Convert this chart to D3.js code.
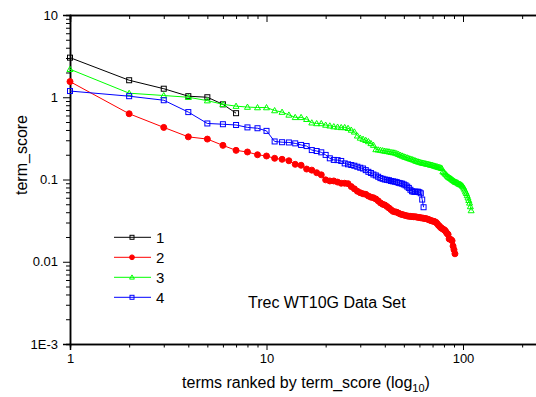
<!DOCTYPE html>
<html><head><meta charset="utf-8">
<script src="https://cdn.jsdelivr.net/npm/d3@7"></script>
<style>body{margin:0;background:#fff}svg{display:block;font-family:Arial,"Liberation Sans",sans-serif}</style>
</head><body><svg id="c" width="536" height="397"></svg>
<script>
// term_score for terms ranked 1..N (rank = index + 1)
const series1 = [3.03,1.61,1.27,1.03,1.0,0.82,0.64];
const series2 = [1.55,0.63,0.43,0.33,0.31,0.26,0.226,0.216,0.200,0.193,
0.181,0.176,0.169,0.153,0.149,0.134,0.130,0.121,0.114,0.099,
0.096,0.096,0.093,0.090,0.090,0.089,0.082,0.077,0.072,0.069,
0.067,0.066,0.063,0.061,0.060,0.058,0.055,0.052,0.050,0.049,
0.047,0.045,0.043,0.041,0.0405,0.040,0.039,0.038,0.0375,0.037,
0.0365,0.036,0.0358,0.0356,0.0354,0.0353,0.0352,0.035,0.0347,0.0345,
0.0342,0.034,0.0338,0.0336,0.0333,0.033,0.0325,0.032,0.0316,0.0312,
0.031,0.0306,0.030,0.029,0.0278,0.027,0.026,0.0255,0.025,0.0245,
0.024,0.023,0.022,0.0215,0.019,0.0188,0.0185,0.018,0.0155,0.014,0.0125];
const series3 = [2.19,1.12,1.05,1.00,0.91,0.82,0.78,0.76,0.75,0.75,
0.69,0.66,0.61,0.57,0.57,0.54,0.49,0.48,0.48,0.46,
0.45,0.44,0.435,0.43,0.43,0.42,0.40,0.38,0.34,0.32,
0.31,0.30,0.29,0.275,0.262,0.232,0.230,0.228,0.225,0.222,
0.220,0.218,0.215,0.213,0.211,0.207,0.203,0.198,0.194,0.190,
0.187,0.184,0.181,0.178,0.176,0.173,0.170,0.167,0.165,0.163,
0.161,0.159,0.158,0.157,0.155,0.154,0.153,0.151,0.150,0.149,
0.147,0.146,0.144,0.143,0.141,0.140,0.139,0.137,0.125,0.122,
0.118,0.115,0.111,0.108,0.106,0.104,0.102,0.100,0.098,0.096,
0.094,0.093,0.092,0.091,0.089,0.088,0.087,0.086,0.084,0.082,
0.079,0.075,0.071,0.068,0.064,0.060,0.056,0.052,0.047,0.042];
const series4 = [1.19,1.03,0.92,0.66,0.48,0.47,0.46,0.43,0.42,0.39,
0.29,0.284,0.282,0.275,0.263,0.255,0.228,0.222,0.214,0.199,
0.181,0.173,0.172,0.168,0.157,0.153,0.150,0.147,0.143,0.139,
0.136,0.130,0.124,0.120,0.115,0.112,0.108,0.104,0.102,0.100,
0.099,0.098,0.096,0.095,0.094,0.093,0.091,0.090,0.089,0.087,
0.085,0.082,0.079,0.075,0.072,0.071,0.071,0.071,0.071,0.070,
0.068,0.057,0.046];
const seriesNames = ["1","2","3","4"];
const seriesColors = ["#000000","#ff0000","#00ff00","#0000ff"];
const seriesShapes = ["square","circle","triangle","square"];
const yTickValues = [0.001,0.01,0.1,1,10];
const yTickLabels = ["1E-3","0.01","0.1","1","10"];
const xTickValues = [1,10,100];
const xTickLabels = ["1","10","100"];
const xTitle = "terms ranked by term_score (log";
const xTitleSub = "10";
const yTitle = "term_score";
const note = "Trec WT10G Data Set";

const svg = d3.select("#c");
const L=70, T=15, B=344;
const x = d3.scaleLog().domain([1,250]).range([L, L+196.5*Math.log10(250)]);
const y = d3.scaleLog().domain([0.001,10]).range([B,T]);
const R = x.range()[1];

const minorX = []; for (let d=1; d<=100; d*=10) for (let k=2;k<=9;k++) if (d*k<=250) minorX.push(d*k);
const minorY = []; for (let d=0.001; d<5; d*=10) for (let k=2;k<=9;k++) minorY.push(d*k);

// axes
const g = svg.append("g");
const ax = (sel)=>sel.selectAll("path").attr("stroke","#000").attr("stroke-width",1.5);
// bottom
g.append("g").attr("transform",`translate(0,${B})`).call(d3.axisBottom(x).tickValues(minorX).tickSize(3.5).tickFormat("")).call(ax);
g.append("g").attr("transform",`translate(0,${B})`).call(d3.axisBottom(x).tickValues(xTickValues).tickSize(6).tickPadding(4).tickFormat((d,i)=>xTickLabels[i])).call(ax)
  .selectAll("text").attr("font-size",13).attr("font-family","Arial, 'Liberation Sans', sans-serif").attr("fill","#000");
// top
g.append("g").attr("transform",`translate(0,${T})`).call(d3.axisBottom(x).tickValues(minorX).tickSize(4).tickFormat("")).call(ax);
g.append("g").attr("transform",`translate(0,${T})`).call(d3.axisBottom(x).tickValues(xTickValues).tickSize(7).tickFormat("")).call(ax);
// left
g.append("g").attr("transform",`translate(${L},0)`).call(d3.axisLeft(y).tickValues(minorY).tickSize(4).tickFormat("")).call(ax);
g.append("g").attr("transform",`translate(${L},0)`).call(d3.axisLeft(y).tickValues(yTickValues).tickSize(7).tickPadding(5).tickFormat((d,i)=>yTickLabels[i])).call(ax)
  .selectAll("text").attr("font-size",13).attr("font-family","Arial, 'Liberation Sans', sans-serif").attr("fill","#000");
// right
g.append("g").attr("transform",`translate(${R},0)`).call(d3.axisLeft(y).tickValues(yTickValues).tickSize(-7).tickFormat("")).call(ax);
g.selectAll(".tick line").attr("stroke","#000").attr("stroke-width",1);
g.selectAll(".domain").attr("stroke-width",1.5);

// series
const all = [series1,series2,series3,series4];
const line = d3.line().x((d,i)=>x(i+1)).y(d=>y(d));
function marker(sel, shape, color, s){
  if (shape==="circle") sel.append("circle").attr("r",s*0.6).attr("fill",color).attr("stroke",color);
  else if (shape==="square") sel.append("rect").attr("x",-s/2).attr("y",-s/2).attr("width",s).attr("height",s).attr("fill","none").attr("stroke",color).attr("stroke-width",1);
  else sel.append("path").attr("d",`M0,${-s*0.6}L${s*0.6},${s*0.45}L${-s*0.6},${s*0.45}Z`).attr("fill","none").attr("stroke",color).attr("stroke-width",1);
}
all.forEach((data,k)=>{
  const sg = svg.append("g");
  sg.append("path").datum(data).attr("d",line).attr("fill","none").attr("stroke",seriesColors[k]).attr("stroke-width",1);
  data.forEach((v,i)=>{
    const m = sg.append("g").attr("transform",`translate(${x(i+1)},${y(v)})`);
    marker(m, seriesShapes[k], seriesColors[k], 5);
  });
});

// legend
seriesNames.forEach((n,k)=>{
  const ly = 237.3 + k*20;
  const lg = svg.append("g");
  lg.append("line").attr("x1",114).attr("x2",151).attr("y1",ly).attr("y2",ly).attr("stroke",seriesColors[k]).attr("stroke-width",1);
  const m = lg.append("g").attr("transform",`translate(132,${ly})`);
  marker(m, seriesShapes[k], seriesColors[k], 4);
  lg.append("text").attr("x",156).attr("y",ly+5.5).attr("font-size",15).text(n);
});

svg.append("text").attr("x",248).attr("y",308).attr("font-size",16).text(note);

const xt = svg.append("text").attr("x",306).attr("y",388).attr("text-anchor","middle").attr("font-size",16);
xt.append("tspan").text(xTitle);
xt.append("tspan").attr("font-size",11).attr("dy",4).text(xTitleSub);
xt.append("tspan").attr("dy",-4).text(")");

svg.append("text").attr("transform","translate(27,155) rotate(-90)").attr("text-anchor","middle").attr("font-size",16).text(yTitle);
</script></body></html>
